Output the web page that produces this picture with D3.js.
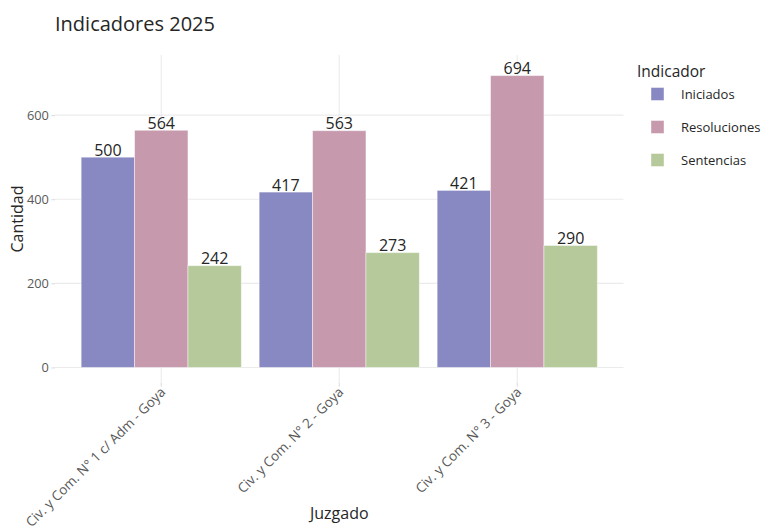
<!DOCTYPE html>
<html>
<head>
<meta charset="utf-8">
<script src="https://cdn.jsdelivr.net/npm/d3@7"></script>
<style>
  html, body { margin: 0; padding: 0; background: #fff; }
  svg { display: block; font-family: "Open Sans", "Noto Sans", sans-serif; }
</style>
</head>
<body>
<svg id="chart" width="764" height="526"></svg>
<script>
// Courts (x categories)
const juzgados = [
  "Civ. y Com. N° 1 c/ Adm - Goya",
  "Civ. y Com. N° 2 - Goya",
  "Civ. y Com. N° 3 - Goya"
];
// Indicators (series)
const indicadores = ["Iniciados", "Resoluciones", "Sentencias"];
const iniciados    = [500, 417, 421];
const resoluciones = [564, 563, 694];
const sentencias   = [242, 273, 290];
const yTicks = [0, 200, 400, 600];
const colores = ["#8888c2", "#c699ad", "#b5c99a"];

const seriesValues = [iniciados, resoluciones, sentencias];
const rows = [];
juzgados.forEach((j, i) => {
  indicadores.forEach((ind, k) => rows.push({ juzgado: j, indicador: ind, value: seriesValues[k][i] }));
});

const svg = d3.select("#chart");
const plot = { left: 55, right: 623.5, top: 55, bottom: 383 };

const x = d3.scaleBand()
  .domain(juzgados)
  .range([plot.left, plot.right])
  .paddingInner(0.1)
  .paddingOuter(0.147);
const xSub = d3.scaleBand()
  .domain(indicadores)
  .range([0, x.bandwidth()])
  .padding(0);
const y = d3.scaleLinear()
  .domain([-37, 743])
  .range([plot.bottom, plot.top]);
const color = d3.scaleOrdinal().domain(indicadores).range(colores);

const grid = "#ebebeb";

// grid lines
svg.append("g").selectAll("line.h")
  .data(yTicks).join("line")
  .attr("x1", plot.left).attr("x2", plot.right)
  .attr("y1", d => y(d)).attr("y2", d => y(d))
  .attr("stroke", grid).attr("stroke-width", 1.1);
svg.append("g").selectAll("line.v")
  .data(juzgados).join("line")
  .attr("x1", d => x(d) + x.bandwidth() / 2).attr("x2", d => x(d) + x.bandwidth() / 2)
  .attr("y1", plot.top).attr("y2", plot.bottom)
  .attr("stroke", grid).attr("stroke-width", 1.1);

// y axis
const yAxis = svg.append("g")
  .attr("transform", `translate(${plot.left},0)`)
  .call(d3.axisLeft(y).tickValues(yTicks).tickSize(3.6).tickPadding(2.5));
yAxis.select(".domain").remove();
yAxis.selectAll(".tick line").attr("stroke", "#d9d9d9");
yAxis.selectAll(".tick text")
  .attr("fill", "#595959").attr("font-size", "12.8px")
  .attr("font-family", "Open Sans, sans-serif");

// x axis
const xAxis = svg.append("g")
  .attr("transform", `translate(0,${plot.bottom})`)
  .call(d3.axisBottom(x).tickSize(3.6).tickSizeOuter(0));
xAxis.select(".domain").remove();
xAxis.selectAll(".tick line").attr("stroke", "#d9d9d9");
xAxis.selectAll(".tick text")
  .attr("fill", "#595959").attr("font-size", "13.5px")
  .attr("font-family", "Open Sans, sans-serif")
  .attr("text-anchor", "end")
  .attr("dy", null)
  .attr("y", 0)
  .attr("transform", "translate(5,10) rotate(-45)");

// bars
const groups = svg.append("g").selectAll("g")
  .data(juzgados).join("g")
  .attr("transform", d => `translate(${x(d)},0)`);
groups.selectAll("rect")
  .data(j => rows.filter(r => r.juzgado === j))
  .join("rect")
  .attr("x", d => xSub(d.indicador))
  .attr("width", xSub.bandwidth())
  .attr("y", d => y(d.value))
  .attr("height", d => y(0) - y(d.value))
  .attr("fill", d => color(d.indicador))
  .attr("stroke", "rgba(255,255,255,0.45)")
  .attr("stroke-width", 1);

// value labels
groups.selectAll("text.val")
  .data(j => rows.filter(r => r.juzgado === j))
  .join("text")
  .attr("class", "val")
  .attr("x", d => xSub(d.indicador) + xSub.bandwidth() / 2)
  .attr("y", d => y(d.value) - 1.5)
  .attr("text-anchor", "middle")
  .attr("font-size", "16px")
  .attr("fill", "#262626")
  .text(d => d.value);

// titles
svg.append("text")
  .attr("x", 55).attr("y", 31)
  .attr("font-size", "20px").attr("fill", "#262626")
  .text("Indicadores 2025");
svg.append("text")
  .attr("x", (plot.left + plot.right) / 2).attr("y", 519)
  .attr("text-anchor", "middle")
  .attr("font-size", "16px").attr("fill", "#262626")
  .text("Juzgado");
svg.append("text")
  .attr("transform", `translate(23,${(plot.top + plot.bottom) / 2}) rotate(-90)`)
  .attr("text-anchor", "middle")
  .attr("font-size", "16px").attr("fill", "#262626")
  .text("Cantidad");

// legend
const legend = svg.append("g").attr("transform", "translate(637,0)");
legend.append("text")
  .attr("x", 0).attr("y", 77)
  .attr("font-size", "15.5px").attr("fill", "#262626")
  .text("Indicador");
const items = legend.selectAll("g.item")
  .data(indicadores).join("g")
  .attr("class", "item")
  .attr("transform", (d, i) => `translate(0,${94 + i * 33})`);
items.append("rect")
  .attr("x", 14).attr("y", -6.5)
  .attr("width", 13).attr("height", 13)
  .attr("fill", d => color(d))
  .attr("stroke", "rgba(255,255,255,0.45)");
items.append("text")
  .attr("x", 44).attr("y", 4.5)
  .attr("font-size", "13px").attr("fill", "#262626")
  .text(d => d);
</script>
</body>
</html>
